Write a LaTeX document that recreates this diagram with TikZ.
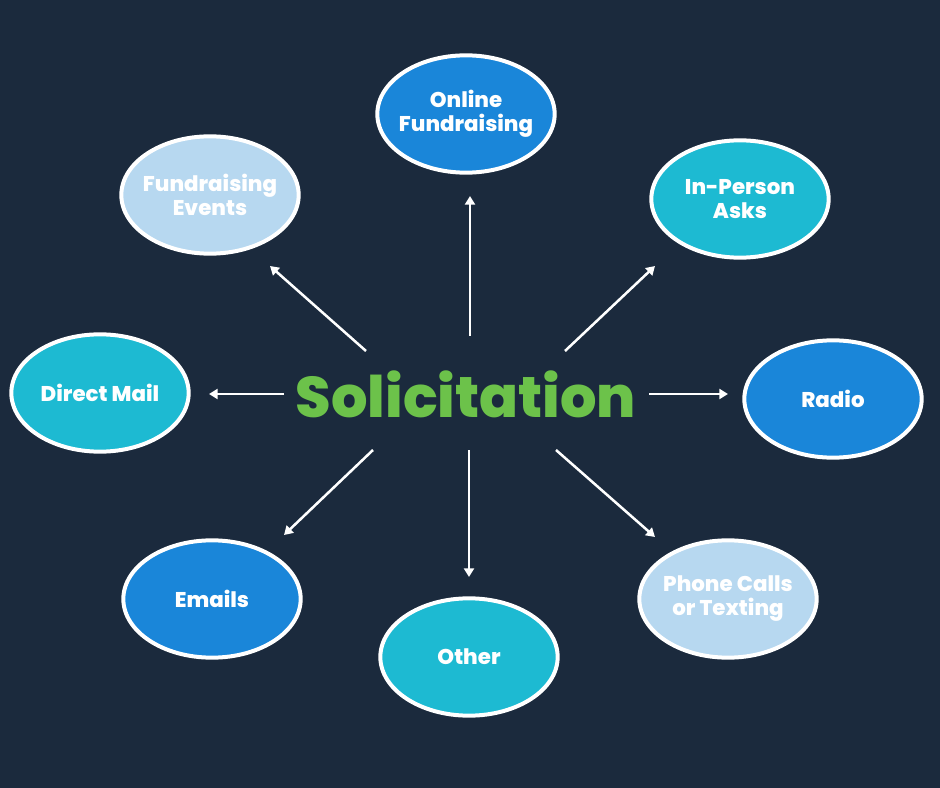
\documentclass[tikz,border=0pt]{standalone}
\usepackage{fontspec}
\setmainfont{Poppins}[BoldFont={Poppins ExtraBold}]
\usetikzlibrary{shapes.geometric,arrows.meta}
\definecolor{bg}{HTML}{1B2A3D}
\definecolor{cblue}{HTML}{1A86D9}
\definecolor{clight}{HTML}{B7D8F0}
\definecolor{ccyan}{HTML}{1DBAD2}
\definecolor{cgreen}{HTML}{6CC24A}
\tikzset{
  bubble/.style={ellipse, draw=white, line width=3pt, minimum width=133pt, minimum height=88pt,
    inner xsep=-16pt, inner ysep=0pt, align=center, text=white, font=\fontsize{16}{18}\selectfont\bfseries},
  arr/.style={draw=white, line width=1.9pt, -{Triangle[length=6.5pt,width=7.5pt]}}
}
\begin{document}
\begin{tikzpicture}[x=0.75pt,y=-0.75pt]
\fill[bg] (0,0) rectangle (940,788);
\useasboundingbox (0,0) rectangle (940,788);
\node[bubble, fill=cblue] (online) at (466,114) {Online\\Fundraising};
\node[bubble, fill=clight] (events) at (210,195) {Fundraising\\Events};
\node[bubble, fill=ccyan] (inperson) at (740,199) {In-Person\\Asks};
\node[bubble, fill=ccyan] (mail) at (100,393) {Direct Mail};
\node[bubble, fill=cblue] (radio) at (833,399) {Radio};
\node[bubble, fill=cblue] (emails) at (212,599) {Emails};
\node[bubble, fill=ccyan] (other) at (469,657) {Other};
\node[bubble, fill=clight] (phone) at (728,599) {Phone Calls\\or Texting};
\node[text=cgreen, font=\fontsize{43}{50}\selectfont\bfseries, inner sep=0pt] (sol) at (466,394) {Solicitation};
\coordinate (s1) at (470,336); \coordinate (e1) at (470,196);
\coordinate (s2) at (366,351); \coordinate (e2) at (270,266);
\coordinate (s3) at (565,351); \coordinate (e3) at (655,266);
\coordinate (s4) at (284,394); \coordinate (e4) at (209,394);
\coordinate (s5) at (649,394); \coordinate (e5) at (728,394);
\coordinate (s6) at (373,450); \coordinate (e6) at (284,535);
\coordinate (s7) at (469,450); \coordinate (e7) at (469,577);
\coordinate (s8) at (556,450); \coordinate (e8) at (655,537);
\foreach \i in {1,...,8} { \draw[arr] (s\i) -- (e\i); }
\end{tikzpicture}
\end{document}
